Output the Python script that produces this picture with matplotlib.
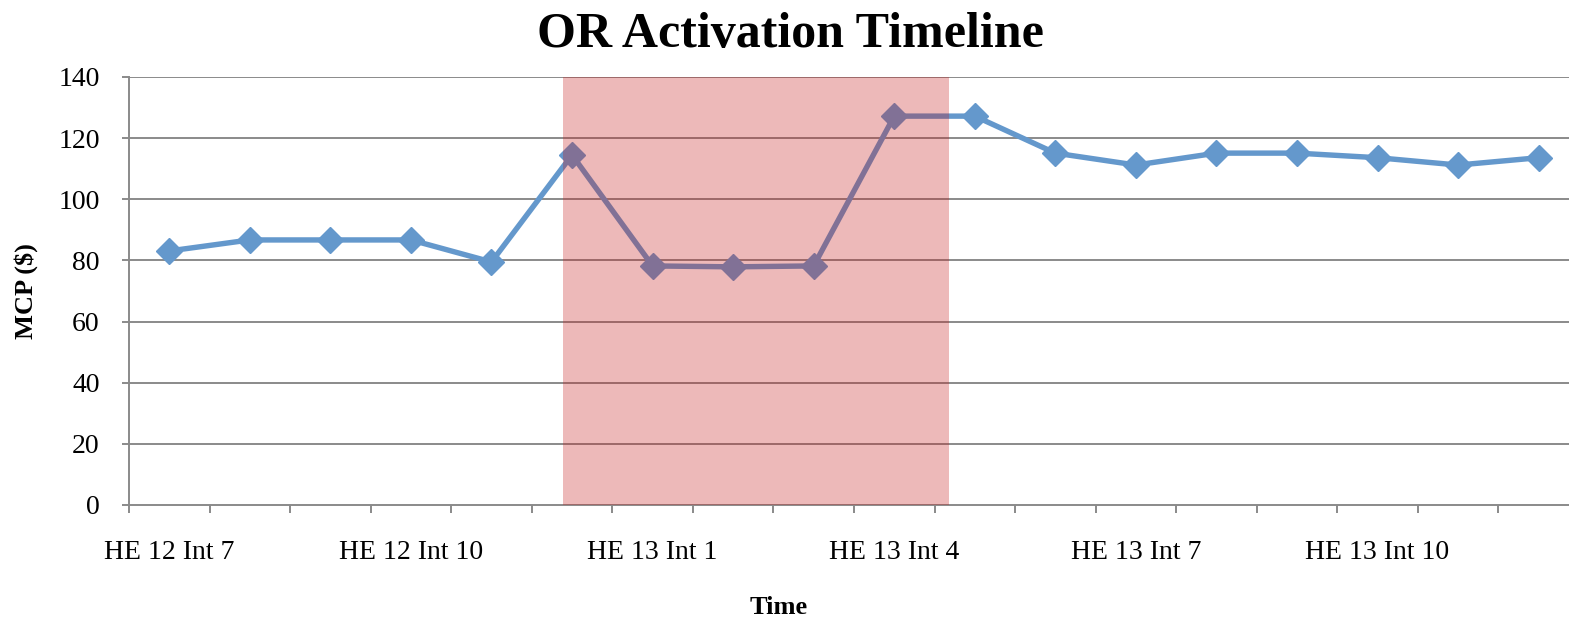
import matplotlib
matplotlib.use("Agg")
import matplotlib.pyplot as plt
import numpy as np

categories = ["HE 12 Int 7", "HE 12 Int 8", "HE 12 Int 9", "HE 12 Int 10", "HE 12 Int 11", "HE 12 Int 12",
              "HE 13 Int 1", "HE 13 Int 2", "HE 13 Int 3", "HE 13 Int 4", "HE 13 Int 5", "HE 13 Int 6",
              "HE 13 Int 7", "HE 13 Int 8", "HE 13 Int 9", "HE 13 Int 10", "HE 13 Int 11", "HE 13 Int 12"]
mcp = [83.1, 86.7, 86.7, 86.7, 79.5, 114.5, 78.2, 77.9, 78.2, 127.2, 127.2, 115.1,
       111.2, 115.1, 115.1, 113.6, 111.2, 113.6]
activation_start = 4.89
activation_end = 9.68
y_ticks = [0, 20, 40, 60, 80, 100, 120, 140]

plt.rcParams['font.family'] = ['Liberation Serif', 'DejaVu Serif']

fig = plt.figure(figsize=(15.69, 6.2), dpi=100)
ax = fig.add_axes([129/1569, 1 - 505/620, 1 - 129/1569, (505 - 77)/620])

x = np.arange(len(categories))
grid_c = "#8a8a8a"
for yv in y_ticks[1:]:
    ax.axhline(yv, color=grid_c, lw=1.4, zorder=1)

ax.plot(x, mcp, color="#6498CC", lw=3.9, marker="D", markersize=13.5, zorder=2)
ax.axvspan(activation_start, activation_end, color=(198/255, 25/255, 25/255), alpha=0.3, lw=0, zorder=3)

ax.set_xlim(-0.5, (1569 - 129) / 80.55 - 0.5)
ax.set_ylim(0, 140)

for s in ["top", "right"]:
    ax.spines[s].set_visible(False)
for s in ["left", "bottom"]:
    ax.spines[s].set_color(grid_c)
    ax.spines[s].set_linewidth(1.4)

ax.set_yticks(y_ticks)
ax.tick_params(axis="y", direction="out", length=5, width=1.4, color=grid_c, labelsize=20, pad=16)

ax.set_xticks(np.arange(-0.5, len(categories) - 0.5, 1.0))
ax.set_xticklabels([])
ax.tick_params(axis="x", which="major", direction="out", length=6, width=1.4, color=grid_c)
ax.set_xticks(x[::3], minor=True)
ax.set_xticklabels(categories[::3], minor=True)
ax.tick_params(axis="x", which="minor", length=0, labelsize=20, pad=25)

fig.text(779/1569, 1 - 607/620, "Time", fontsize=19, fontweight="bold", ha="center", va="center")
fig.text(26/1569, 1 - 291/620, "MCP ($)", fontsize=19, fontweight="bold", ha="center", va="center",
         rotation=90)
fig.text(790/1569, 1 - 35/620, "OR Activation Timeline", fontsize=36, fontweight="bold",
         ha="center", va="center")

fig.savefig("out.png", dpi=100)
